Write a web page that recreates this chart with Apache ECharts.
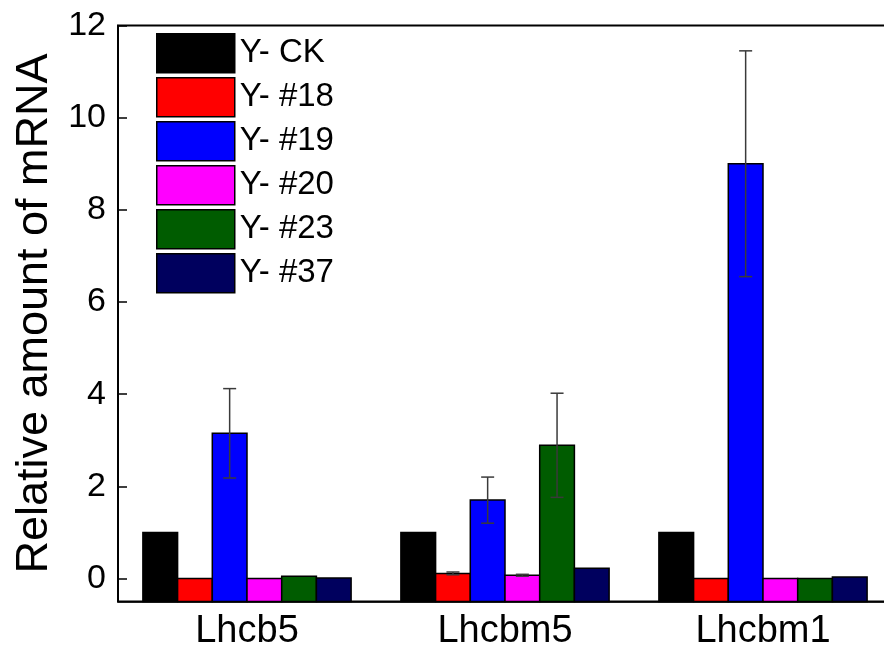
<!DOCTYPE html>
<html>
<head>
<meta charset="utf-8">
<script src="https://cdn.jsdelivr.net/npm/echarts@6/dist/echarts.min.js"></script>
<style>
html,body{margin:0;padding:0;background:#fff;overflow:hidden;}
#chart{width:884px;height:653px;}
</style>
</head>
<body>
<div id="chart"></div>
<script>
// ---- data ----
var categories = ['Lhcb5', 'Lhcbm5', 'Lhcbm1'];
var seriesNames = ['Y- CK', 'Y- #18', 'Y- #19', 'Y- #20', 'Y- #23', 'Y- #37'];
var valCK  = [1.0, 1.0, 1.0];
var val18  = [0.0, 0.11, 0.0];
var val19  = [3.15, 1.70, 9.0];
var val20  = [0.0, 0.07, 0.0];
var val23  = [0.05, 2.89, 0.0];
var val37  = [0.01, 0.22, 0.03];
var errCK  = [0, 0, 0];
var err18  = [0, 0.03, 0];
var err19  = [0.97, 0.50, 2.45];
var err20  = [0, 0.02, 0];
var err23  = [0, 1.13, 0];
var err37  = [0, 0, 0];
var yTicks = [0, 2, 4, 6, 8, 10, 12];

var allVals = [valCK, val18, val19, val20, val23, val37];
var allErrs = [errCK, err18, err19, err20, err23, err37];
var colors = ['#000000', '#ff0000', '#0000ff', '#ff00ff', '#005c00', '#00005e'];

var Y_MIN = -0.5, Y_MAX = 12;
var BAR_FRAC = 0.1345;
var FONT = 'Liberation Sans, Arial, sans-serif';

function makeSeries(idx) {
  var data = categories.map(function (c, i) {
    return [i, allVals[idx][i], allErrs[idx][i]];
  });
  return {
    name: seriesNames[idx],
    type: 'custom',
    clip: false,
    itemStyle: { color: colors[idx], borderColor: '#000', borderWidth: 1.5 },
    encode: { x: 0, y: 1 },
    data: data,
    renderItem: function (params, api) {
      var ci = api.value(0), v = api.value(1), e = api.value(2);
      var band = api.size([1, 0])[0];
      var bw = band * BAR_FRAC;
      var center = api.coord([ci, 0])[0];
      var n = seriesNames.length;
      var cx = center + (idx - (n - 1) / 2) * bw;
      var x0 = cx - bw / 2;
      var yTop = api.coord([ci, v])[1];
      var yBot = api.coord([ci, Y_MIN])[1];
      var children = [{
        type: 'rect',
        shape: { x: x0, y: yTop, width: bw, height: yBot - yTop },
        style: { fill: colors[idx], stroke: '#000', lineWidth: 1.5 }
      }];
      if (e > 0) {
        var yHi = api.coord([ci, v + e])[1];
        var yLo = api.coord([ci, v - e])[1];
        var cap = 6.5;
        var st = { stroke: '#3a3a3a', lineWidth: 1.5 };
        children.push({ type: 'line', shape: { x1: cx, y1: yHi, x2: cx, y2: yLo }, style: st });
        children.push({ type: 'line', shape: { x1: cx - cap, y1: yHi, x2: cx + cap, y2: yHi }, style: st });
        children.push({ type: 'line', shape: { x1: cx - cap, y1: yLo, x2: cx + cap, y2: yLo }, style: st });
      }
      return { type: 'group', children: children };
    }
  };
}

var chart = echarts.init(document.getElementById('chart'), null, { renderer: 'canvas' });
var option = {
  animation: false,
  backgroundColor: '#fff',
  textStyle: { fontFamily: FONT },
  grid: {
    left: 118, top: 25.5, width: 774, height: 576,
    outerBoundsMode: 'none',
    containLabel: false,
    show: true, borderColor: '#000', borderWidth: 2, backgroundColor: 'transparent'
  },
  legend: {
    orient: 'vertical',
    left: 156, top: 33,
    icon: 'rect',
    itemWidth: 78, itemHeight: 39, itemGap: 3.5,
    padding: 0,
    itemStyle: { borderColor: '#000', borderWidth: 1.5 },
    textStyle: { fontSize: 33, color: '#000', fontFamily: FONT },
    data: seriesNames
  },
  xAxis: {
    type: 'category',
    data: categories,
    boundaryGap: true,
    axisLine: { show: true, onZero: false, lineStyle: { color: '#000', width: 1.5 } },
    axisTick: { show: false },
    axisLabel: { fontSize: 38, color: '#000', margin: 11, fontFamily: FONT, hideOverlap: false },
    splitLine: { show: false }
  },
  yAxis: {
    type: 'value',
    min: Y_MIN, max: Y_MAX,
    splitNumber: 6,
    name: 'Relative amount of mRNA',
    nameLocation: 'middle',
    nameGap: 61,
    nameTextStyle: { fontSize: 45, color: '#000', fontFamily: FONT },
    axisLine: { show: true, onZero: false, lineStyle: { color: '#000', width: 1.5 } },
    axisTick: { show: true, inside: true, length: 9, lineStyle: { color: '#000', width: 1.5 } },
    axisLabel: {
      fontSize: 34, color: '#000', margin: 12, fontFamily: FONT,
      showMinLabel: false,
      formatter: function (v) { return yTicks.indexOf(v) >= 0 ? String(v) : ''; }
    },
    splitLine: { show: false }
  },
  series: seriesNames.map(function (n, i) { return makeSeries(i); })
};
chart.setOption(option);
</script>
</body>
</html>
